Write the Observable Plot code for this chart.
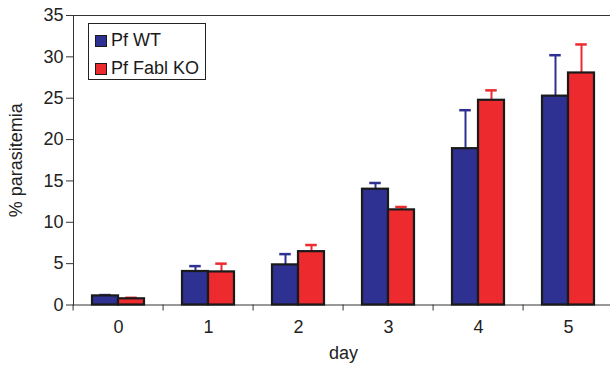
<!DOCTYPE html>
<html><head><meta charset="utf-8">
<script src="https://cdn.jsdelivr.net/npm/d3@7"></script>
<script src="https://cdn.jsdelivr.net/npm/@observablehq/plot@0.6"></script>
<style>
body{margin:0;background:#fff;overflow:hidden}
#wrap{position:relative;width:610px;height:365px}
#legend{position:absolute;left:88px;top:23px;width:118px;height:57px;border:1px solid #222;background:#fff;box-sizing:border-box;font:18px "Liberation Sans",Arial,sans-serif;color:#1a1a1a}
.item{position:absolute;left:6px;height:13px;display:flex;align-items:center;white-space:nowrap}
.sw{width:10px;height:10px;border:1.5px solid #1a1a1a;margin-right:4px}
</style></head>
<body><div id="wrap"></div>
<script>
const days = [0, 1, 2, 3, 4, 5];
const series = ["Pf WT", "Pf Fabl KO"];
const colors = ["#2e3192", "#ed2a2e"];
const wt    = [1.1, 4.05, 4.85, 14.0, 18.9, 25.25];
const wtErr = [0.1, 0.65, 1.3, 0.75, 4.65, 4.95];
const ko    = [0.75, 4.0, 6.45, 11.5, 24.75, 28.05];
const koErr = [0.12, 1.0, 0.8, 0.35, 1.2, 3.45];
const yTicks = [0, 5, 10, 15, 20, 25, 30, 35];

const rows = days.flatMap((d, i) => [
  {day: d, series: series[0], value: wt[i], err: wtErr[i]},
  {day: d, series: series[1], value: ko[i], err: koErr[i]}
]);

const left = 70, right = 615;
const step = (right - left) / days.length;

const chart = Plot.plot({
  width: 610,
  height: 365,
  marginLeft: left,
  marginRight: 0,
  marginTop: 15,
  marginBottom: 60.5,
  style: {fontFamily: '"Liberation Sans", Arial, sans-serif', fontSize: "18px", color: "#222", background: "#fff"},
  fx: {domain: days, range: [left, right], padding: 0},
  x: {domain: series, paddingInner: 0, paddingOuter: 0.714, axis: null},
  y: {domain: [0, 35]},
  color: {domain: series, range: colors},
  marks: [
    Plot.frame({facet: "super", anchor: "left", stroke: "#333"}),
    Plot.frame({facet: "super", anchor: "top", stroke: "#333"}),
    Plot.frame({facet: "super", anchor: "bottom", stroke: "#333"}),
    Plot.ruleX(rows, {fx: "day", x: "series", y1: "value", y2: d => d.value + d.err, stroke: "series", strokeWidth: 2}),
    Plot.tickY(rows, {fx: "day", x: "series", y: d => d.value + d.err, stroke: "series", strokeWidth: 2.5, insetLeft: 7.25, insetRight: 7.25}),
    Plot.barY(rows, {fx: "day", x: "series", y: "value", fill: "series", stroke: "#1a1a1a", strokeWidth: 2.2}),
    Plot.axisY({ticks: yTicks, tickSize: 7, tickPadding: 3, stroke: "#333", label: "% parasitemia", labelAnchor: "center", labelOffset: 64, labelArrow: false}),
    Plot.axisFx({anchor: "bottom", tickSize: 0, tickPadding: 15, label: "day", labelAnchor: "center", labelOffset: 54}),
    Plot.axisFx({anchor: "bottom", text: null, tickSize: 6, dx: -step / 2, stroke: "#333", label: null})
  ]
});

const wrap = document.getElementById("wrap");
wrap.appendChild(chart);
const legend = document.createElement("div");
legend.id = "legend";
series.forEach((s, i) => {
  const it = document.createElement("div");
  it.className = "item";
  it.style.top = (10 + 28 * i) + "px";
  const sw = document.createElement("span");
  sw.className = "sw";
  sw.style.background = colors[i];
  const tx = document.createElement("span");
  tx.textContent = s;
  it.appendChild(sw); it.appendChild(tx);
  legend.appendChild(it);
});
wrap.appendChild(legend);
</script>
</body></html>
